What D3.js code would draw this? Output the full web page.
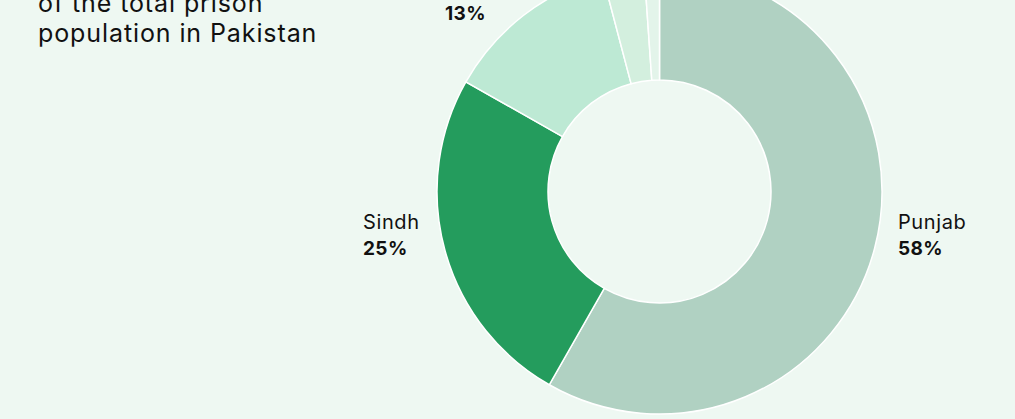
<!DOCTYPE html>
<html>
<head>
<meta charset="utf-8">
<script src="https://cdn.jsdelivr.net/npm/d3@7"></script>
<style>
  html, body { margin: 0; padding: 0; background: #eef8f2; }
  svg { display: block; font-family: Inter, "Noto Sans", sans-serif; }
</style>
</head>
<body>
<div id="container"></div>
<script>
// provinces and their share of prison population (%)
const provinces = ["Punjab", "Sindh", "Khyber Pakhtunkhwa", "Balochistan", "Other"];
const shares = [58.25, 24.95, 12.7, 3.0, 1.1];
const shareLabels = ["58%", "25%", "13%", "", ""];
const sliceColors = ["#b0d1c2", "#249c5d", "#bde9d4", "#d3efde", "#e3f4ea"];
const titleLines = ["Share of each province", "of the total prison", "population in Pakistan"];

const w = 1015;
const h = 419;
const cx = 659.5;
const cy = 191.5;
const outerR = 222.5;
const innerR = 111.5;

const svg = d3.select("#container")
  .append("svg")
  .attr("width", w)
  .attr("height", h);

svg.append("rect").attr("width", w).attr("height", h).attr("fill", "#eef8f2");

// title (top lines cut off by the frame)
svg.append("text")
  .attr("x", 38)
  .attr("y", 42 - 30 * (titleLines.length - 1))
  .attr("font-size", 25)
  .attr("letter-spacing", 0.9)
  .attr("fill", "#111")
  .selectAll("tspan")
  .data(titleLines)
  .enter()
  .append("tspan")
  .attr("x", 38)
  .attr("dy", (d, i) => i === 0 ? 0 : 30)
  .text(d => d);

const data = provinces.map((p, i) => ({ name: p, value: shares[i], label: shareLabels[i], color: sliceColors[i] }));

const pie = d3.pie().sort(null).value(d => d.value);
const arc = d3.arc().innerRadius(innerR).outerRadius(outerR);

const g = svg.append("g").attr("transform", `translate(${cx}, ${cy})`);

g.selectAll("path")
  .data(pie(data))
  .enter()
  .append("path")
  .attr("d", arc)
  .attr("fill", d => d.data.color)
  .attr("stroke", "#ffffff")
  .attr("stroke-width", 1.5);

// outside labels
const labelPos = {
  "Punjab": [898, 229],
  "Sindh": [363, 229],
  "Khyber Pakhtunkhwa": [445, -6]
};

data.filter(d => labelPos[d.name]).forEach(d => {
  const [x, y] = labelPos[d.name];
  const t = svg.append("text").attr("x", x).attr("y", y).attr("fill", "#111");
  t.append("tspan").attr("x", x).attr("font-size", 20).attr("letter-spacing", 0.6).text(d.name);
  t.append("tspan").attr("x", x).attr("dy", 26).attr("font-size", 19).attr("letter-spacing", 0.4).attr("font-weight", "bold").text(d.label);
});
</script>
</body>
</html>
